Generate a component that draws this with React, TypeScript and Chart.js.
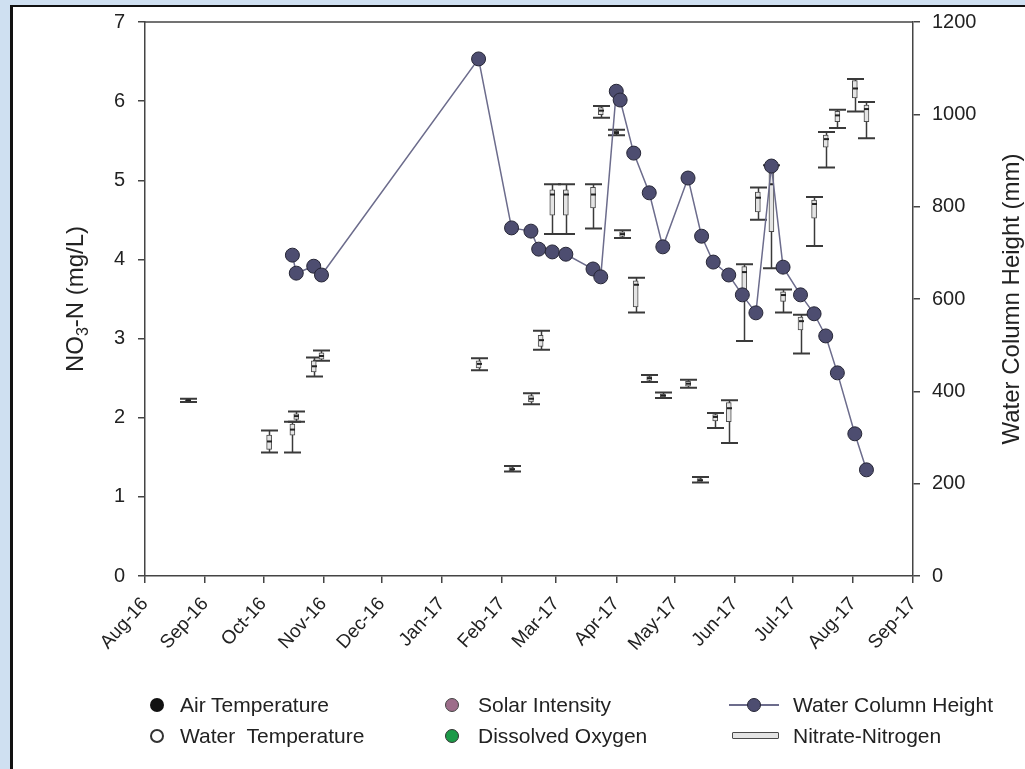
import React, { useEffect, useRef } from "react";
import { Chart, registerables } from "chart.js";

Chart.register(...registerables);

const FONT = "'Liberation Sans', Arial, sans-serif";
const TEXT = "#222";
const AXIS = "#444";

// Month ticks along the date axis
const xTickDates = [
  "2016-08-01", "2016-09-01", "2016-10-01", "2016-11-01", "2016-12-01",
  "2017-01-01", "2017-02-01", "2017-03-01", "2017-04-01", "2017-05-01",
  "2017-06-01", "2017-07-01", "2017-08-01", "2017-09-01",
];
const xTickLabels = [
  "Aug-16", "Sep-16", "Oct-16", "Nov-16", "Dec-16", "Jan-17", "Feb-17",
  "Mar-17", "Apr-17", "May-17", "Jun-17", "Jul-17", "Aug-17", "Sep-17",
];

// Water column height (mm), right axis
const wchDates = [
  "2016-10-16", "2016-10-18", "2016-10-27", "2016-10-31", "2017-01-20",
  "2017-02-06", "2017-02-16", "2017-02-20", "2017-02-27", "2017-03-06",
  "2017-03-20", "2017-03-24", "2017-04-01", "2017-04-03", "2017-04-10",
  "2017-04-18", "2017-04-25", "2017-05-08", "2017-05-15", "2017-05-21",
  "2017-05-29", "2017-06-05", "2017-06-12", "2017-06-20", "2017-06-26",
  "2017-07-05", "2017-07-12", "2017-07-18", "2017-07-24", "2017-08-02",
  "2017-08-08",
];
const wchValues = [
  695, 656, 671, 652, 1120, 754, 747, 708, 702, 697, 665, 648, 1050, 1031,
  916, 830, 713, 862, 736, 680, 652, 609, 570, 888, 669, 609, 568, 520, 440,
  308, 230,
];

// Nitrate-nitrogen (mg/L) box plots, left axis
const boxDates = [
  "2016-08-23", "2016-10-04", "2016-10-16", "2016-10-18", "2016-10-27",
  "2016-10-31", "2017-01-20", "2017-02-06", "2017-02-16", "2017-02-21",
  "2017-02-27", "2017-03-06", "2017-03-20", "2017-03-24", "2017-04-01",
  "2017-04-04", "2017-04-11", "2017-04-18", "2017-04-25", "2017-05-08",
  "2017-05-14", "2017-05-22", "2017-05-29", "2017-06-06", "2017-06-13",
  "2017-06-20", "2017-06-26", "2017-07-05", "2017-07-12", "2017-07-18",
  "2017-07-24", "2017-08-02", "2017-08-08",
];
const whiskerLow = [
  2.2, 1.56, 1.56, 1.95, 2.52, 2.72, 2.6, 1.32, 2.17, 2.86, 4.32, 4.32, 4.39,
  5.79, 5.57, 4.27, 3.33, 2.45, 2.25, 2.38, 1.18, 1.87, 1.68, 2.97, 4.5, 3.89,
  3.33, 2.81, 4.17, 5.16, 5.66, 5.87, 5.53,
];
const boxLow = [
  2.21, 1.6, 1.78, 1.98, 2.58, 2.74, 2.63, 1.33, 2.2, 2.9, 4.56, 4.56, 4.65,
  5.83, 5.59, 4.29, 3.4, 2.47, 2.26, 2.4, 1.19, 1.96, 1.95, 3.57, 4.6, 4.35,
  3.47, 3.11, 4.52, 5.42, 5.74, 6.04, 5.74,
];
const boxMedian = [
  2.22, 1.7, 1.85, 2.02, 2.65, 2.78, 2.68, 1.35, 2.24, 2.98, 4.82, 4.82, 4.82,
  5.88, 5.6, 4.32, 3.68, 2.5, 2.28, 2.43, 1.21, 2.01, 2.12, 3.84, 4.78, 4.95,
  3.55, 3.22, 4.7, 5.52, 5.82, 6.16, 5.9,
];
const boxHigh = [
  2.23, 1.78, 1.92, 2.05, 2.72, 2.82, 2.72, 1.37, 2.28, 3.04, 4.88, 4.88, 4.91,
  5.92, 5.62, 4.35, 3.73, 2.52, 2.3, 2.46, 1.23, 2.04, 2.19, 3.91, 4.85, 5.09,
  3.59, 3.27, 4.75, 5.57, 5.87, 6.26, 5.95,
];
const whiskerHigh = [
  2.24, 1.84, 1.95, 2.08, 2.76, 2.85, 2.75, 1.39, 2.31, 3.1, 4.95, 4.95, 4.95,
  5.94, 5.64, 4.37, 3.77, 2.54, 2.32, 2.48, 1.25, 2.06, 2.22, 3.94, 4.91, 5.19,
  3.62, 3.3, 4.79, 5.61, 5.89, 6.28, 5.99,
];

const ORIGIN = Date.UTC(2016, 7, 1);
const dayOf = (s: string) => {
  const [y, m, d] = s.split("-").map(Number);
  return (Date.UTC(y, m - 1, d) - ORIGIN) / 86400000;
};

const BOX_DATASET = 1;

// Whiskers and caps behind the boxes, medians on top of them
const boxPlotPlugin = {
  id: "boxPlotPlugin",
  beforeDatasetsDraw(chart: any) {
    const { ctx } = chart;
    const x = chart.scales.x;
    const y = chart.scales.y;
    ctx.save();
    ctx.strokeStyle = "#3a3a3a";
    boxDates.forEach((d, i) => {
      const px = Math.round(x.getPixelForValue(dayOf(d))) + 0.5;
      const lo = y.getPixelForValue(whiskerLow[i]);
      const hi = y.getPixelForValue(whiskerHigh[i]);
      ctx.lineWidth = 1.5;
      ctx.beginPath();
      ctx.moveTo(px, lo);
      ctx.lineTo(px, hi);
      ctx.stroke();
      ctx.lineWidth = 2;
      ctx.beginPath();
      ctx.moveTo(px - 8.5, lo);
      ctx.lineTo(px + 8.5, lo);
      ctx.moveTo(px - 8.5, hi);
      ctx.lineTo(px + 8.5, hi);
      ctx.stroke();
    });
    ctx.restore();
  },
  afterDatasetDraw(chart: any, args: any) {
    if (args.index !== BOX_DATASET) return;
    const { ctx } = chart;
    const x = chart.scales.x;
    const y = chart.scales.y;
    ctx.save();
    ctx.strokeStyle = "#222";
    ctx.lineWidth = 2;
    boxDates.forEach((d, i) => {
      const px = Math.round(x.getPixelForValue(dayOf(d))) + 0.5;
      const py = y.getPixelForValue(boxMedian[i]);
      ctx.beginPath();
      ctx.moveTo(px - 2.5, py);
      ctx.lineTo(px + 2.5, py);
      ctx.stroke();
    });
    ctx.restore();
  },
};

// Frame top edge and rotated axis titles
const framePlugin = {
  id: "framePlugin",
  afterDraw(chart: any) {
    const { ctx, chartArea } = chart;
    ctx.save();
    ctx.strokeStyle = AXIS;
    ctx.lineWidth = 1.5;
    ctx.beginPath();
    ctx.moveTo(chartArea.left, chartArea.top);
    ctx.lineTo(chartArea.right, chartArea.top);
    ctx.stroke();

    const midY = (chartArea.top + chartArea.bottom) / 2;
    ctx.fillStyle = TEXT;
    ctx.textBaseline = "middle";
    ctx.textAlign = "left";

    // Left title: NO3-N (mg/L) with subscript
    const main = `24px ${FONT}`;
    const sub = `16px ${FONT}`;
    ctx.font = main;
    const w1 = ctx.measureText("NO").width;
    const w3 = ctx.measureText("-N (mg/L)").width;
    ctx.font = sub;
    const w2 = ctx.measureText("3").width;
    const total = w1 + w2 + w3;
    ctx.translate(76, midY);
    ctx.rotate(-Math.PI / 2);
    let cx = -total / 2;
    ctx.font = main;
    ctx.fillText("NO", cx, 0);
    cx += w1;
    ctx.font = sub;
    ctx.fillText("3", cx, 8);
    cx += w2;
    ctx.font = main;
    ctx.fillText("-N (mg/L)", cx, 0);
    ctx.setTransform(1, 0, 0, 1, 0, 0);

    // Right title
    ctx.font = main;
    ctx.textAlign = "center";
    ctx.translate(1012, midY);
    ctx.rotate(-Math.PI / 2);
    ctx.fillText("Water Column Height (mm)", 0, 0);
    ctx.restore();
  },
};

const axisGrid = {
  drawOnChartArea: false,
  drawTicks: true,
  tickLength: 7,
  color: AXIS,
  lineWidth: 1.5,
};
const axisBorder = { display: true, color: AXIS, width: 1.5 };

// Fixed side widths so the plot area keeps its position
const fixSide = (width: number) => (scale: any) => {
  scale.width = width;
  scale.paddingTop = 0;
  scale.paddingBottom = 0;
};

export default function App() {
  const canvasRef = useRef<HTMLCanvasElement | null>(null);

  useEffect(() => {
    if (!canvasRef.current) return;
    const chart = new Chart(canvasRef.current, {
      type: "line",
      data: {
        datasets: [
          {
            type: "line",
            label: "Water Column Height",
            data: wchDates.map((d, i) => ({ x: dayOf(d), y: wchValues[i] })),
            yAxisID: "y1",
            xAxisID: "x",
            borderColor: "#6c6c8c",
            borderWidth: 1.5,
            pointRadius: 7,
            pointBackgroundColor: "#4d4d70",
            pointBorderColor: "#262636",
            pointBorderWidth: 1,
            tension: 0,
            order: 0,
          } as any,
          {
            type: "bar",
            label: "Nitrate-Nitrogen",
            data: boxDates.map((d, i) => ({
              x: dayOf(d),
              y: [boxLow[i], boxHigh[i]],
            })),
            yAxisID: "y",
            xAxisID: "x",
            backgroundColor: "#e4e4e4",
            borderColor: "#4a4a4a",
            borderWidth: 1,
            borderSkipped: false,
            barThickness: 5,
            grouped: false,
            order: 1,
          } as any,
        ],
      },
      options: {
        responsive: false,
        animation: false,
        events: [],
        layout: { padding: { top: 22, left: 0, right: 0, bottom: 0 } },
        plugins: {
          legend: { display: false },
          tooltip: { enabled: false },
        },
        scales: {
          x: {
            type: "linear",
            min: 0,
            max: dayOf("2017-09-01"),
            offset: false,
            grid: { ...axisGrid, offset: false },
            border: axisBorder,
            afterBuildTicks: (scale: any) => {
              scale.ticks = xTickDates.map((d) => ({ value: dayOf(d) }));
            },
            afterFit: (scale: any) => {
              scale.height = 769 - 576;
            },
            ticks: {
              autoSkip: false,
              minRotation: 48,
              maxRotation: 48,
              padding: 10,
              color: TEXT,
              font: { family: FONT, size: 19 },
              callback: (_v: any, i: number) => xTickLabels[i] ?? "",
            },
          },
          y: {
            type: "linear",
            position: "left",
            min: 0,
            max: 7,
            grid: axisGrid,
            border: axisBorder,
            afterFit: fixSide(145),
            ticks: {
              stepSize: 1,
              padding: 13,
              color: TEXT,
              font: { family: FONT, size: 20 },
            },
          },
          y1: {
            type: "linear",
            position: "right",
            min: 0,
            max: 1200,
            grid: axisGrid,
            border: axisBorder,
            afterFit: fixSide(1025 - 913),
            ticks: {
              stepSize: 200,
              padding: 12,
              color: TEXT,
              font: { family: FONT, size: 20 },
              callback: (v: any) => String(v),
            },
          },
        },
      },
      plugins: [boxPlotPlugin, framePlugin],
    });
    return () => chart.destroy();
  }, []);

  const legendText: React.CSSProperties = {
    position: "absolute",
    fontFamily: FONT,
    fontSize: 21,
    color: TEXT,
    lineHeight: "24px",
    whiteSpace: "pre",
  };
  const dot = (cx: number, cy: number, style: React.CSSProperties) => (
    <div
      style={{
        position: "absolute",
        left: cx - 7,
        top: cy - 7,
        width: 14,
        height: 14,
        borderRadius: "50%",
        boxSizing: "border-box",
        ...style,
      }}
    />
  );

  return (
    <div
      style={{
        position: "fixed",
        left: 0,
        top: 0,
        width: 1025,
        height: 769,
        background: "#cfe0f1",
        overflow: "hidden",
      }}
    >
      <div
        style={{
          position: "absolute",
          left: 10,
          top: 5,
          width: 1030,
          height: 780,
          background: "#fff",
          borderLeft: "3px solid #111",
          borderTop: "2px solid #111",
        }}
      />
      <canvas
        ref={canvasRef}
        width={1025}
        height={769}
        style={{ position: "absolute", left: 0, top: 0, width: 1025, height: 769 }}
      />
      {dot(157, 705, { background: "#111" })}
      <div style={{ ...legendText, left: 180, top: 693 }}>Air Temperature</div>
      {dot(157, 736, { background: "#fff", border: "2px solid #333" })}
      <div style={{ ...legendText, left: 180, top: 724 }}>Water  Temperature</div>

      {dot(452, 705, { background: "#9d6d8a", border: "1px solid #444" })}
      <div style={{ ...legendText, left: 478, top: 693 }}>Solar Intensity</div>
      {dot(452, 736, { background: "#1c9a48", border: "1px solid #333" })}
      <div style={{ ...legendText, left: 478, top: 724 }}>Dissolved Oxygen</div>

      <div
        style={{
          position: "absolute",
          left: 729,
          top: 704,
          width: 50,
          height: 1.5,
          background: "#6c6c8c",
        }}
      />
      {dot(754, 705, { background: "#4d4d70", border: "1px solid #262636" })}
      <div style={{ ...legendText, left: 793, top: 693 }}>Water Column Height</div>
      <div
        style={{
          position: "absolute",
          left: 732,
          top: 732,
          width: 47,
          height: 7,
          boxSizing: "border-box",
          background: "#e4e4e4",
          border: "1.5px solid #4a4a4a",
          borderRadius: 1,
        }}
      />
      <div style={{ ...legendText, left: 793, top: 724 }}>Nitrate-Nitrogen</div>
    </div>
  );
}
